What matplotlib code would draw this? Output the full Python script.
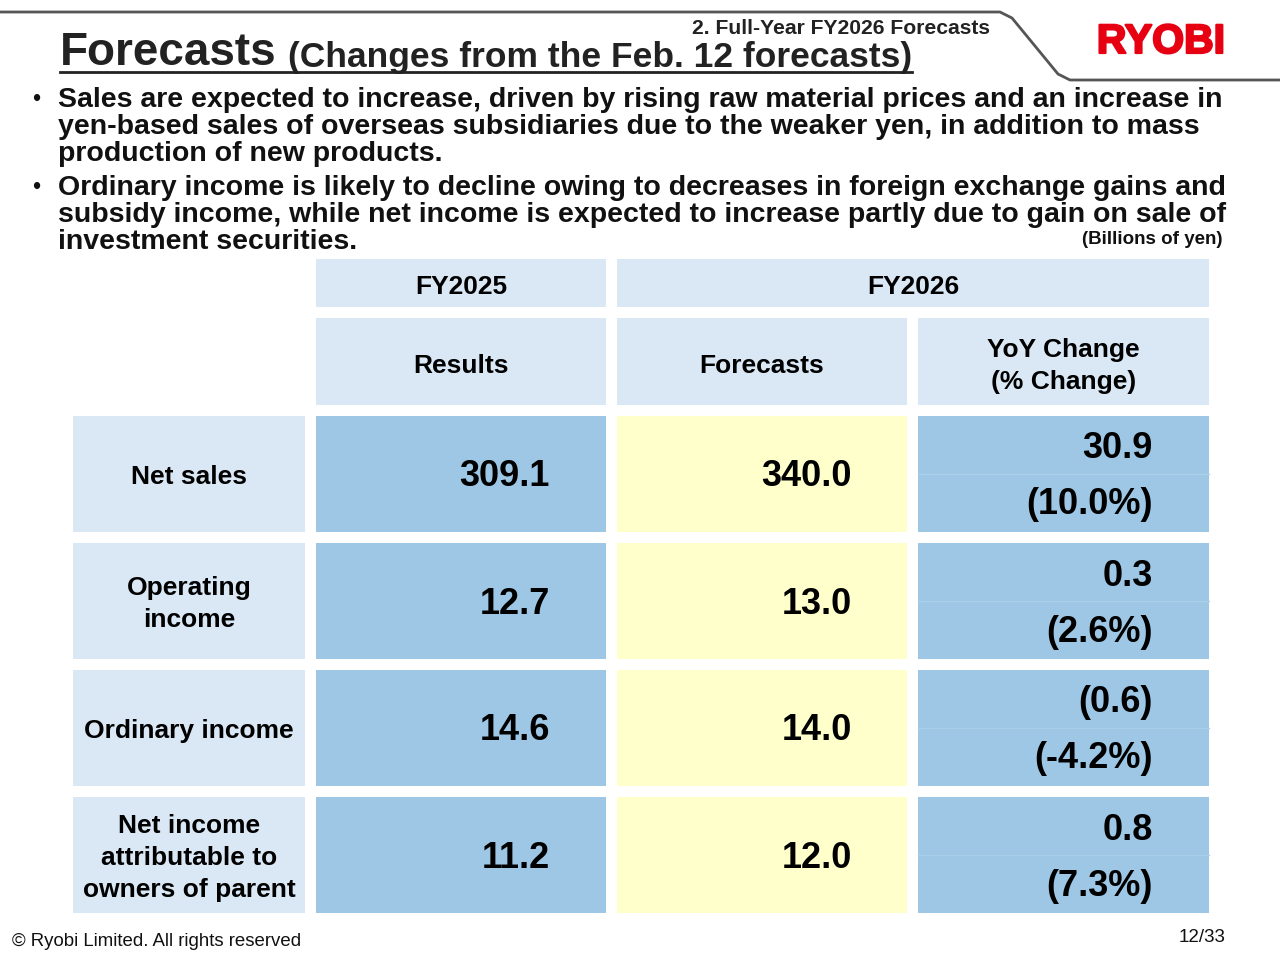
import matplotlib
matplotlib.use("Agg")
from matplotlib import pyplot as plt
from matplotlib.patches import Rectangle
import matplotlib.patheffects as pe

plt.rcParams['font.family'] = ['Liberation Sans', 'DejaVu Sans']

# data (billions of yen)
items = ['Net sales', 'Operating\nincome', 'Ordinary income',
         'Net income\nattributable to\nowners of parent']
fy2025 = ['309.1', '12.7', '14.6', '11.2']
fy2026 = ['340.0', '13.0', '14.0', '12.0']
yoy = ['30.9', '0.3', '(0.6)', '0.8']
yoy_pct = ['(10.0%)', '(2.6%)', '(-4.2%)', '(7.3%)']

bullets = [
    ['Sales are expected to increase, driven by rising raw material prices and an increase in',
     'yen-based sales of overseas subsidiaries due to the weaker yen, in addition to mass',
     'production of new products.'],
    ['Ordinary income is likely to decline owing to decreases in foreign exchange gains and',
     'subsidy income, while net income is expected to increase partly due to gain on sale of',
     'investment securities.'],
]

LIGHT = '#dae8f5'
MID = '#9dc7e5'
YELLOW = '#ffffcc'

fig = plt.figure(figsize=(12.8, 9.6), dpi=100)
ax = fig.add_axes([0, 0, 1, 1])
ax.set_xlim(0, 1280)
ax.set_ylim(960, 0)
ax.axis('off')

# header line
ax.plot([0, 1000, 1012, 1058, 1070, 1280], [12, 12, 18, 74, 80, 80],
        color='#555555', lw=2, solid_capstyle='round', solid_joinstyle='round')

ax.text(990, 29, '2. Full-Year FY2026 Forecasts', ha='right', va='center',
        fontsize=15.2, fontweight='bold', color='#222222')
ax.text(1161, 42, 'RYOBI', ha='center', va='center', fontsize=29.5,
        fontweight='heavy', color='#e60012',
        path_effects=[pe.withStroke(linewidth=1.6, foreground='#e60012')])

ax.text(60, 53, 'Forecasts', ha='left', va='center', fontsize=33,
        fontweight='bold', color='#222222')
ax.text(288, 57, '(Changes from the Feb. 12 forecasts)', ha='left', va='center',
        fontsize=25.5, fontweight='bold', color='#222222')
ax.plot([60, 912], [72, 72], color='#222222', lw=2)

# bullets
line_y = [[100, 127, 154], [188, 215, 242]]
for para, ys in zip(bullets, line_y):
    ax.text(36, ys[0], '•', ha='center', va='center', fontsize=17, color='#111111')
    for line, y in zip(para, ys):
        ax.text(58, y, line, ha='left', va='center', fontsize=20.5,
                fontweight='bold', color='#111111')

ax.text(1222, 239, '(Billions of yen)', ha='right', va='center', fontsize=13.5,
        fontweight='bold', color='#111111')

# table layout
col_x = [73, 316, 617, 918]
col_w = [232, 290, 290, 291]
row_y0 = 416
row_h = 116
gap = 11
dy = 3  # visual centring of digits

def cell(x, y, w, h, color):
    ax.add_patch(Rectangle((x, y), w, h, facecolor=color, edgecolor='none'))

# header rows
cell(col_x[1], 259, col_w[1], 48, LIGHT)
cell(col_x[2], 259, col_x[3] + col_w[3] - col_x[2], 48, LIGHT)
ax.text(col_x[1] + col_w[1] / 2, 284 + dy, 'FY2025', ha='center', va='center',
        fontsize=19, fontweight='bold')
ax.text((col_x[2] + col_x[3] + col_w[3]) / 2, 284 + dy, 'FY2026', ha='center',
        va='center', fontsize=19, fontweight='bold')

subheads = ['Results', 'Forecasts', 'YoY Change\n(% Change)']
for i, s in enumerate(subheads):
    cell(col_x[i + 1], 318, col_w[i + 1], 87, LIGHT)
    ax.text(col_x[i + 1] + col_w[i + 1] / 2, 363 + dy, s, ha='center', va='center',
            fontsize=19, fontweight='bold', linespacing=1.42)

# data rows
for r in range(len(items)):
    y = row_y0 + r * (row_h + gap)
    cy = y + row_h / 2 + dy
    cell(col_x[0], y, col_w[0], row_h, LIGHT)
    cell(col_x[1], y, col_w[1], row_h, MID)
    cell(col_x[2], y, col_w[2], row_h, YELLOW)
    cell(col_x[3], y, col_w[3], row_h, MID)
    ax.plot([col_x[3], col_x[3] + col_w[3]], [y + 58, y + 58],
            color='#a9cfea', lw=1)
    ax.text(col_x[0] + col_w[0] / 2, cy, items[r], ha='center', va='center',
            fontsize=19, fontweight='bold', linespacing=1.4)
    ax.text(550, cy, fy2025[r], ha='right', va='center', fontsize=26,
            fontweight='bold')
    ax.text(852, cy, fy2026[r], ha='right', va='center', fontsize=26,
            fontweight='bold')
    ax.text(1153, y + 30 + dy, yoy[r], ha='right', va='center', fontsize=26,
            fontweight='bold')
    ax.text(1153, y + 86 + dy, yoy_pct[r], ha='right', va='center', fontsize=26,
            fontweight='bold')

# footer
ax.text(12, 942, '© Ryobi Limited. All rights reserved', ha='left', va='center',
        fontsize=13.4, color='#111111')
ax.text(1225, 937, '12/33', ha='right', va='center', fontsize=13.5,
        color='#111111')

fig.savefig('out.png', dpi=100)
